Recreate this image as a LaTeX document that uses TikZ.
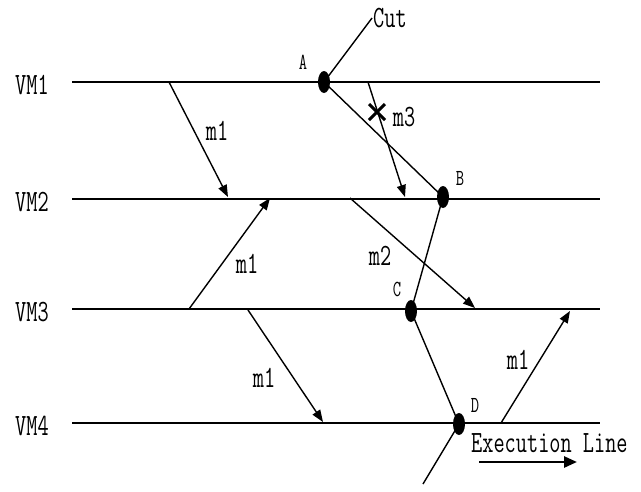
\documentclass[tikz,border=0pt]{standalone}
\usepackage{fontspec}
\usepackage{tikz}
\usetikzlibrary{arrows.meta, shapes.misc, shapes.geometric}
\newfontfamily\labelfont[FakeStretch=0.7]{Latin Modern Mono}
\definecolor{ink}{HTML}{000000}
\tikzset{
  font=\labelfont\fontsize{31}{33}\selectfont,
  >={Triangle[length=12pt, width=9pt]},
  %
  vmline/.style={draw=ink, line width=1.5pt},
  msg/.style={draw=ink, line width=1.4pt, ->},
  cutline/.style={draw=ink, line width=1.4pt},
  event/.style={ellipse, fill=ink, inner sep=0pt, minimum width=12pt, minimum height=22pt},
  vmlbl/.style={text=ink, inner sep=1pt},
  msglbl/.style={text=ink, inner sep=1pt},
  ptlbl/.style={text=ink, inner sep=1pt, font=\labelfont\fontsize{23}{24}\selectfont},
}

\begin{document}
\begin{tikzpicture}[x=1pt, y=-1pt]
  \useasboundingbox (0,0) rectangle (641,491);

  % process lines
  \foreach \i/\y in {1/82, 2/199, 3/309, 4/423} {
    \node[vmlbl] (vm\i) at (32,\y+3) {VM\i};
    \coordinate (s\i) at (72,\y);
    \coordinate (e\i) at (600,\y);
    \draw[vmline] (s\i) -- (e\i);
  }

  % checkpoint events
  \node[event] (A) at (324,82)  {};
  \node[event] (B) at (443,197) {};
  \node[event] (C) at (411,311) {};
  \node[event] (D) at (459,424) {};
  \node[ptlbl] at (303,62)  {A};
  \node[ptlbl] at (460,178) {B};
  \node[ptlbl] at (397,289) {C};
  \node[ptlbl] at (475,405) {D};

  % the cut
  \coordinate (cuttop) at (372,18);
  \coordinate (cutend) at (423,484);
  \draw[cutline] (A.center) -- (B.center) -- (C.center) -- (D.center) -- (cutend);
  \draw[cutline] (A.center) -- (cuttop);
  \node[msglbl, anchor=west] (cut) at (cuttop) {Cut};

  % messages
  \coordinate (m1a) at (169,82);  \coordinate (m1b) at (228,197);
  \coordinate (m1c) at (189,309); \coordinate (m1d) at (270,198);
  \coordinate (m1e) at (248,310); \coordinate (m1f) at (323,422);
  \coordinate (m1g) at (501,423); \coordinate (m1h) at (570,311);
  \coordinate (m2a) at (350,198); \coordinate (m2b) at (475,308);
  \coordinate (m3a) at (368,82);  \coordinate (m3b) at (405,197);
  \draw[msg] (m1a) -- (m1b);
  \draw[msg] (m1c) -- (m1d);
  \draw[msg] (m1e) -- (m1f);
  \draw[msg] (m1g) -- (m1h);
  \draw[msg] (m2a) -- (m2b);
  \draw[msg] (m3a) -- (m3b);
  \node[cross out, draw=ink, line width=3pt, minimum size=13pt, inner sep=0pt] (lost) at (377,112) {};

  \node[msglbl] at (217,131) {m1};
  \node[msglbl] at (247,264) {m1};
  \node[msglbl] at (264,378) {m1};
  \node[msglbl] at (518,360) {m1};
  \node[msglbl] at (380,256) {m2};
  \node[msglbl] at (404,117) {m3};

  % direction of execution
  \node[msglbl, anchor=west] (exec) at (470,443) {Execution Line};
  \coordinate (xa) at (479,462);
  \coordinate (xb) at (577,462);
  \draw[draw=ink, line width=2.6pt, -{Triangle[length=13pt, width=11pt]}] (xa) -- (xb);
\end{tikzpicture}
\end{document}
